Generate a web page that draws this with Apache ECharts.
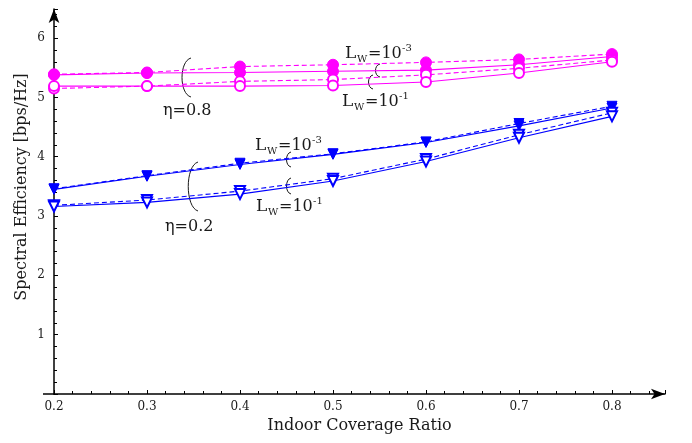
<!DOCTYPE html>
<html>
<head>
<meta charset="utf-8">
<script src="https://cdn.jsdelivr.net/npm/echarts@6.0.0/dist/echarts.min.js"></script>
<style>
  html, body { margin: 0; padding: 0; background: #fff; }
  #chart { width: 692px; height: 443px; }
</style>
</head>
<body>
<div id="chart"></div>
<script>
// indoor coverage ratio (x)
const ratio = [0.2, 0.3, 0.4, 0.5, 0.6, 0.7, 0.8];

// eta = 0.8
const hiLw3Dash  = [5.39, 5.42, 5.52, 5.55, 5.59, 5.64, 5.73];
const hiLw3Solid = [5.38, 5.41, 5.42, 5.44, 5.46, 5.55, 5.69];
const hiLw1Dash  = [5.15, 5.19, 5.27, 5.30, 5.38, 5.49, 5.63];
const hiLw1Solid = [5.19, 5.19, 5.19, 5.20, 5.26, 5.41, 5.60];

// eta = 0.2
const loLw3Dash  = [3.46, 3.68, 3.89, 4.05, 4.25, 4.56, 4.85];
const loLw3Solid = [3.45, 3.67, 3.87, 4.04, 4.24, 4.52, 4.82];
const loLw1Dash  = [3.18, 3.27, 3.42, 3.63, 3.96, 4.37, 4.74];
const loLw1Solid = [3.16, 3.23, 3.37, 3.59, 3.92, 4.32, 4.68];

const SERIF = '"DejaVu Serif", "Liberation Serif", serif';
const INK = '#1a1a1a';
const MAGENTA = '#ff00ff';
const BLUE = '#0000ff';

const pair = (ys) => ratio.map((x, i) => [x, ys[i]]);

const makeSeries = (ys, color, dashed, symbol, rotate, size) => ({
  type: 'line',
  data: pair(ys),
  symbol: symbol,
  symbolSize: size,
  symbolRotate: rotate,
  showAllSymbol: true,
  lineStyle: { color: color, width: 1.1, type: dashed ? [5, 3] : 'solid' },
  itemStyle: { color: color, borderColor: color, borderWidth: 1 },
  emphasis: { disabled: true },
  z: 3
});

const txt = (x, y, text, size) => ({
  type: 'text', x: x, y: y,
  style: { text: text, font: size + 'px ' + SERIF, fill: INK, textVerticalAlign: 'bottom', verticalAlign: 'bottom' }
});

// L_W=10^x label, (x, base) = left edge / baseline
const lwLabel = (x, base, exp) => ({
  type: 'group',
  x: x,
  y: base,
  children: [
    txt(0, 4, 'L', 17),
    txt(12, 6.5, 'W', 10),
    txt(23, 4, '=10', 16),
    txt(57, -5, exp, 10)
  ]
});

// "(" shaped brace
const brace = (x, y1, y2, depth) => ({
  type: 'bezierCurve',
  shape: {
    x1: x, y1: y1, x2: x, y2: y2,
    cpx1: x - depth, cpy1: y1 + (y2 - y1) * 0.08,
    cpx2: x - depth, cpy2: y2 - (y2 - y1) * 0.08
  },
  style: { stroke: INK, lineWidth: 1, fill: null }
});

const chart = echarts.init(document.getElementById('chart'));

const option = {
  animation: false,
  backgroundColor: '#fff',
  grid: { left: 54, right: 27, top: 9, bottom: 49, outerBoundsMode: 'none' },
  xAxis: {
    type: 'value',
    min: 0.2,
    max: 0.857,
    interval: 0.1,
    name: 'Indoor Coverage Ratio',
    nameLocation: 'middle',
    nameGap: 24,
    nameTextStyle: { fontFamily: SERIF, fontSize: 16, color: INK },
    axisLine: { lineStyle: { color: '#000', width: 1.5 }, symbol: ['none', 'arrow'], symbolSize: [8, 14] },
    axisTick: { inside: true, length: 4, lineStyle: { color: '#000' } },
    minorTick: { show: true, splitNumber: 5, length: 3, lineStyle: { color: '#000' } },
    axisLabel: {
      fontFamily: SERIF, fontSize: 12, color: INK, margin: 7,
      showMaxLabel: false,
      formatter: (v) => v.toFixed(1)
    },
    splitLine: { show: false }
  },
  yAxis: {
    type: 'value',
    min: 0,
    max: 6.49,
    interval: 1,
    axisLine: { lineStyle: { color: '#000', width: 1.5 }, symbol: ['none', 'arrow'], symbolSize: [8, 14] },
    axisTick: { inside: true, length: 4, lineStyle: { color: '#000' } },
    minorTick: { show: true, splitNumber: 5, length: 3, lineStyle: { color: '#000' } },
    axisLabel: {
      fontFamily: SERIF, fontSize: 12, color: INK, margin: 9,
      showMinLabel: false, showMaxLabel: false
    },
    splitLine: { show: false }
  },
  series: [
    makeSeries(hiLw3Dash, MAGENTA, true, 'circle', 0, 11),
    makeSeries(hiLw3Solid, MAGENTA, false, 'circle', 0, 11),
    makeSeries(hiLw1Dash, MAGENTA, true, 'emptyCircle', 0, 10),
    makeSeries(hiLw1Solid, MAGENTA, false, 'emptyCircle', 0, 10),
    makeSeries(loLw3Dash, BLUE, true, 'triangle', 180, 10),
    makeSeries(loLw3Solid, BLUE, false, 'triangle', 180, 10),
    makeSeries(loLw1Dash, BLUE, true, 'emptyTriangle', 180, 10),
    makeSeries(loLw1Solid, BLUE, false, 'emptyTriangle', 180, 10)
  ],
  graphic: [
    // x axis stub left of the origin
    { type: 'line', shape: { x1: 43, y1: 394, x2: 54, y2: 394 }, style: { stroke: '#000', lineWidth: 1.5 } },

    // y axis title
    {
      type: 'text', x: 22, y: 187, rotation: Math.PI / 2,
      style: { text: 'Spectral Efficiency [bps/Hz]', font: '16px ' + SERIF, fill: INK,
        textAlign: 'center', align: 'center', textVerticalAlign: 'middle', verticalAlign: 'middle' }
    },

    // eta = 0.8 group
    brace(191, 58, 97, 12),
    txt(163, 119, 'η=0.8', 16),
    brace(380, 64, 77, 6),
    brace(373, 75, 89, 6),
    lwLabel(345, 58, '-3'),
    lwLabel(342, 106, '-1'),

    // eta = 0.2 group
    brace(198, 162, 211, 13),
    txt(165, 235, 'η=0.2', 16),
    brace(291, 152, 167, 6),
    brace(291, 178, 194, 6),
    lwLabel(255, 150, '-3'),
    lwLabel(256, 211, '-1')
  ]
};

chart.setOption(option);
</script>
</body>
</html>
